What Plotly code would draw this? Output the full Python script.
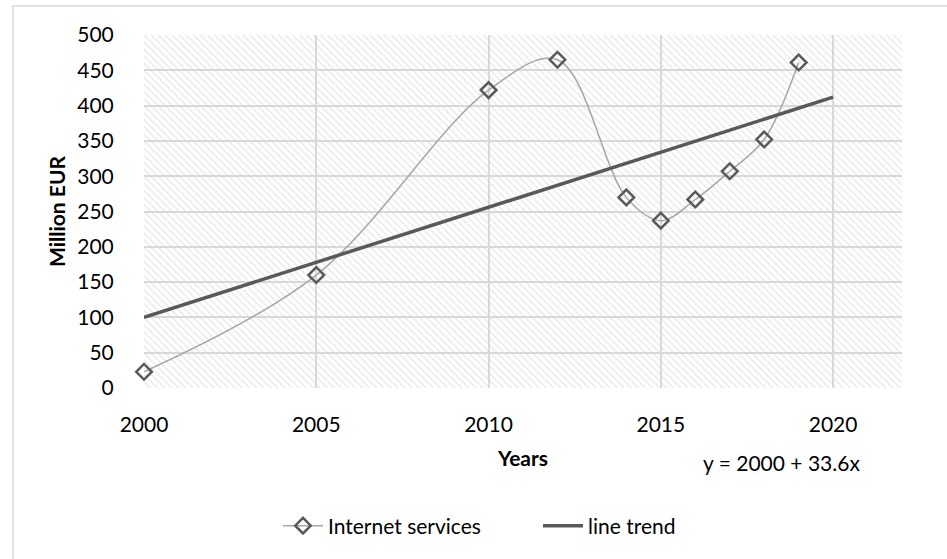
import plotly.graph_objects as go

years = [2000, 2005, 2010, 2012, 2014, 2015, 2016, 2017, 2018, 2019]
internet_services = [23, 160, 422, 465, 270, 237, 267, 307, 352, 461]
trend_years = [2000, 2020]
trend_values = [100, 412]
x_ticks = [2000, 2005, 2010, 2015, 2020]
y_ticks = [0, 50, 100, 150, 200, 250, 300, 350, 400, 450, 500]
x_range = [2000, 2022]
y_range = [0, 500]

FONT = "Lato"
FS = 21
W, H = 947, 559
L, R, T, B = 144, 45, 35, 171
pw, ph = W - L - R, H - T - B

def px_x(p):
    return (p - L) / pw

def px_y(p):
    return (H - B - p) / ph

fig = go.Figure()

# hatched plot background
fig.add_trace(go.Scatter(
    x=x_range, y=[y_range[1], y_range[1]], mode="none", fill="tozeroy",
    fillcolor="rgba(0,0,0,0)",
    fillpattern=dict(shape="\\", fgcolor="#d6d6d6", bgcolor="rgba(0,0,0,0)", size=5, solidity=0.3),
    showlegend=False, hoverinfo="skip",
))

fig.add_trace(go.Scatter(
    x=years, y=internet_services, name="Internet services",
    mode="lines+markers", cliponaxis=False,
    line=dict(color="#a6a6a6", width=1.5, shape="spline", smoothing=1.0),
    marker=dict(symbol="diamond-open", size=12, color="#595959", line=dict(width=2.5, color="#595959")),
))

fig.add_trace(go.Scatter(
    x=trend_years, y=trend_values, name="line trend", mode="lines",
    line=dict(color="#595959", width=3.5),
))

fig.update_layout(
    width=W, height=H,
    margin=dict(l=L, r=R, t=T, b=B),
    paper_bgcolor="white", plot_bgcolor="white",
    font=dict(family=FONT, size=FS, color="#000000"),
    showlegend=True,
    legend=dict(orientation="h", x=px_x(538), xanchor="center", y=px_y(526), yanchor="middle",
                font=dict(size=FS), itemwidth=40, traceorder="normal", entrywidth=205),
    xaxis=dict(range=x_range, tickvals=x_ticks, showgrid=True, gridcolor="#d9d9d9", gridwidth=1.5,
               zeroline=False, showline=False, ticks="", ticklabelstandoff=22,
               title=dict(text="<b>Years</b>", standoff=16, font=dict(size=FS))),
    yaxis=dict(range=y_range, tickvals=y_ticks, showgrid=True, gridcolor="#d9d9d9", gridwidth=1.5,
               zeroline=False, showline=True, linecolor="white", linewidth=2, layer="below traces",
               ticks="", ticklabelstandoff=24,
               title=dict(text="<b>Million EUR</b>", standoff=6, font=dict(size=FS))),
    shapes=[dict(type="rect", xref="paper", yref="paper",
                 x0=px_x(13), x1=px_x(960), y0=px_y(575), y1=px_y(6),
                 line=dict(color="#d9d9d9", width=1.5), layer="below")],
    annotations=[dict(text="y = 2000 + 33.6x", xref="paper", yref="paper",
                      x=px_x(781), y=px_y(462), xanchor="center", yanchor="middle",
                      showarrow=False, font=dict(size=FS))],
)

fig.write_html("out.html")
